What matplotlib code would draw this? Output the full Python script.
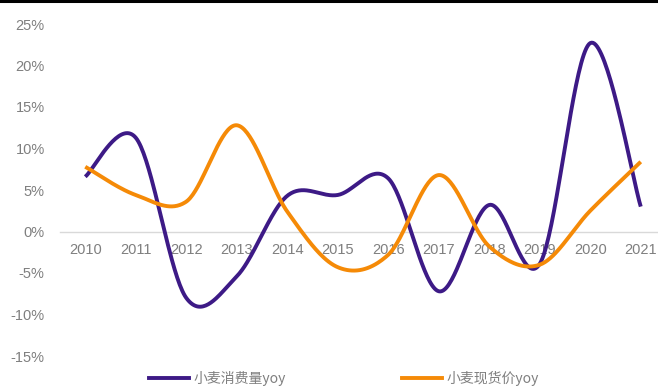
import numpy as np
import matplotlib
matplotlib.use("Agg")
import matplotlib.pyplot as plt
from matplotlib.lines import Line2D
from matplotlib.ticker import FuncFormatter

plt.rcParams["font.family"] = ["Liberation Sans", "Noto Sans CJK SC", "DejaVu Sans"]

years = list(range(2010, 2022))
consumption_yoy = [6.6, 11.3, -8.0, -5.4, 4.3, 4.4, 6.4, -7.2, 3.2, -3.9, 22.7, 3.0]
spot_price_yoy = [7.8, 4.4, 3.6, 12.8, 2.4, -4.3, -2.8, 6.8, -1.8, -4.0, 2.5, 8.4]
series_names = ["小麦消费量yoy", "小麦现货价yoy"]
COLORS = ["#3d1a86", "#f58a07"]
GREY = "#7f7f7f"


def smooth(xs, ys, n=40):
    # Bezier smoothing in the style of office chart "smoothed line"
    p = np.column_stack([xs, ys]).astype(float)
    p = np.vstack([p[0], p, p[-1]])
    out = []
    t = np.linspace(0, 1, n)[:, None]
    for i in range(1, len(p) - 2):
        p0, p1, p2, p3 = p[i - 1], p[i], p[i + 1], p[i + 2]
        c1 = p1 + (p2 - p0) / 6
        c2 = p2 - (p3 - p1) / 6
        seg = ((1 - t) ** 3) * p1 + 3 * ((1 - t) ** 2) * t * c1 \
            + 3 * (1 - t) * t ** 2 * c2 + t ** 3 * p2
        out.append(seg if i == 1 else seg[1:])
    out = np.vstack(out)
    return out[:, 0], out[:, 1]


fig = plt.figure(figsize=(6.58, 3.88), dpi=100)
ax = fig.add_axes([60 / 658, 32 / 388, 606 / 658, 332 / 388])

for vals, name, c in zip([consumption_yoy, spot_price_yoy], series_names, COLORS):
    sx, sy = smooth(years, vals)
    ax.plot(sx, sy, color=c, lw=2.8, solid_capstyle="butt", label=name, zorder=3)

ax.set_xlim(2009.5, 2021.5)
ax.set_ylim(-15, 25)
ax.set_yticks(range(-15, 26, 5))
ax.yaxis.set_major_formatter(FuncFormatter(lambda v, _: f"{v:.0f}%"))
ax.set_xticks(years)
ax.set_xticklabels([str(y) for y in years])

for s in ["top", "right", "left"]:
    ax.spines[s].set_visible(False)
ax.spines["bottom"].set_position(("data", 0))
ax.spines["bottom"].set_color("#d9d9d9")
ax.spines["bottom"].set_linewidth(1.0)
ax.spines["bottom"].set_zorder(1)
ax.tick_params(axis="x", length=0, pad=8, labelsize=10.5, labelcolor=GREY)
ax.tick_params(axis="y", length=0, pad=11, labelsize=10.5, labelcolor=GREY)
ax.patch.set_visible(False)

handles = [Line2D([], [], color=c, lw=2.8) for c in COLORS]
leg = fig.legend(handles, series_names, loc="center", bbox_to_anchor=(344 / 658, 10 / 388),
                 ncol=2, frameon=False, fontsize=10, handlelength=2.9,
                 handletextpad=0.35, columnspacing=8.3, borderpad=0)
for t in leg.get_texts():
    t.set_color(GREY)
    t.set_family(["Noto Sans CJK SC", "DejaVu Sans"])

# black rule across the top edge
fig.add_artist(Line2D([0, 1], [1 - 1 / 388, 1 - 1 / 388], transform=fig.transFigure,
                      color="black", lw=2.2))

fig.savefig("out.png", dpi=100)
